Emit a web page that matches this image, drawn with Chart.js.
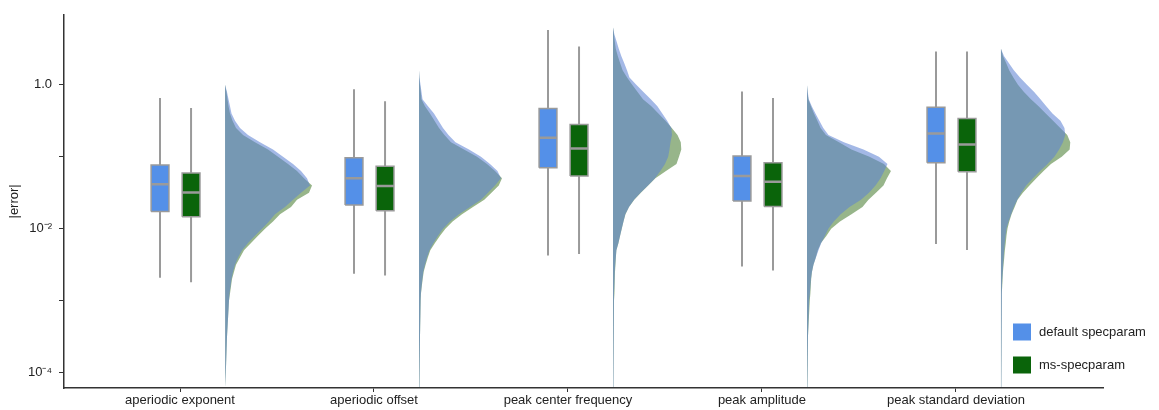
<!DOCTYPE html>
<html>
<head>
<meta charset="utf-8">
<script src="https://cdn.jsdelivr.net/npm/chart.js@4.4.1/dist/chart.umd.min.js"></script>
<style>
  html, body { margin: 0; padding: 0; background: #fff; }
</style>
</head>
<body>
<canvas id="chart" width="1159" height="410"></canvas>
<script>
// Categories along the x axis and the two compared methods
const CATEGORIES = ['aperiodic exponent', 'aperiodic offset', 'peak center frequency', 'peak amplitude', 'peak standard deviation'];
const SERIES = ['default specparam', 'ms-specparam'];

// Box-plot statistics of |error| (whisker ends, quartiles, median)
const DEFAULT_MIN = [0.00207, 0.00236, 0.00422, 0.00297, 0.00612];
const DEFAULT_Q1 = [0.0173, 0.0214, 0.0703, 0.0243, 0.0824];
const DEFAULT_MED = [0.0414, 0.0501, 0.183, 0.054, 0.21];
const DEFAULT_Q3 = [0.0765, 0.0966, 0.466, 0.102, 0.485];
const DEFAULT_MAX = [0.653, 0.869, 5.77, 0.807, 2.89];

const MS_MIN = [0.0018, 0.00223, 0.00445, 0.00262, 0.00506];
const MS_Q1 = [0.0146, 0.0177, 0.0539, 0.0203, 0.0618];
const MS_MED = [0.0317, 0.0392, 0.130, 0.045, 0.148];
const MS_Q3 = [0.0593, 0.0734, 0.28, 0.0824, 0.339];
const MS_MAX = [0.475, 0.588, 3.39, 0.653, 2.89];

// log10(|error|) levels at which the half-violin densities were read
const LEVELS = [1.0, 0.9, 0.8, 0.7, 0.6, 0.5, 0.4, 0.3, 0.2, 0.1,
    0, -0.1, -0.2, -0.3, -0.4, -0.5, -0.6, -0.7, -0.8, -0.9,
    -1.0, -1.1, -1.2, -1.3, -1.4, -1.5, -1.6, -1.7, -1.8, -1.9,
    -2.0, -2.1, -2.2, -2.3, -2.4, -2.5, -2.6, -2.7, -2.8, -2.9,
    -3.0, -3.5, -4.0, -4.2];

// Density (arbitrary units) per category, one row per category
const DEFAULT_DENSITY = [
    [0, 0, 0, 0, 0, 0, 0, 0, 0, 0,
     0.5, 2, 3.5, 5, 6.5, 10, 15, 23, 35, 48,
     58, 68, 76, 82, 85, 76, 68, 60, 50, 44,
     37, 30, 23, 17, 13, 10, 8, 6.5, 5.5, 4.5,
     4, 2, 0.8, 0.4],
    [0, 0, 0, 0, 0, 0, 0, 0, 0, 0.5,
     1.5, 2.5, 3.5, 9, 15, 19.5, 24, 29.5, 36.5, 50,
     62, 71, 78.5, 82, 76, 69, 62, 51, 40, 31,
     24, 19, 14.5, 10.5, 8, 6, 4.3, 3.4, 2.6, 1.9,
     1.6, 1, 0.5, 0.3],
    [0, 0, 0, 1.4, 3.6, 5.8, 8.3, 11.3, 14, 16.5,
     23.3, 30.5, 37.8, 44.4, 49.3, 54.2, 58.4, 59, 57.5, 56.5,
     55.2, 52, 47.4, 42, 35, 27.5, 21, 16, 12.3, 10.5,
     8.7, 7.1, 5.4, 3.4, 2.8, 2.2, 1.8, 1.5, 1.2, 1,
     0.8, 0.5, 0.3, 0.2],
    [0, 0, 0, 0, 0, 0, 0, 0, 0, 0,
     0, 0.8, 1.8, 4.8, 8.5, 12.4, 16.3, 21.5, 37, 56.5,
     72, 80.5, 77.3, 73.6, 68.5, 62, 54, 42.5, 33.7, 26.8,
     21.4, 18, 14.3, 11.5, 9, 6.5, 5, 4, 3.4, 2.9,
     2.2, 1, 0.5, 0.3],
    [0, 0, 0, 0, 0, 0, 3, 8, 12.9, 19,
     26, 33.2, 39.5, 45.3, 51.5, 59.5, 63.5, 64.3, 62, 58.2,
     53.4, 46.6, 39.2, 32, 25.2, 20.3, 16.3, 12.9, 10.2, 7.6,
     5.5, 4.6, 3.8, 3.2, 2.7, 2.2, 1.8, 1.3, 1, 0.8,
     0.6, 0.3, 0.2, 0.1],
];

const MS_DENSITY = [
    [0, 0, 0, 0, 0, 0, 0, 0, 0, 0,
     0.3, 1.5, 2.5, 3.5, 5, 7.5, 11, 18, 30, 43,
     53, 63, 72, 79, 87, 84, 72, 66, 55, 48,
     40, 33, 26, 19, 15, 11, 9, 7, 6, 5,
     4, 2, 0.8, 0.4],
    [0, 0, 0, 0, 0, 0, 0, 0, 0, 0.3,
     1, 1.8, 2.5, 6, 11, 15.5, 20, 25.5, 32, 45,
     58, 68, 76, 83, 79.8, 72.5, 65.3, 54, 43, 33.6,
     26.4, 21, 16, 11.3, 8.8, 6.6, 4.7, 3.7, 2.8, 2,
     1.7, 1, 0.5, 0.3],
    [0, 0, 0, 1, 1.8, 2.8, 4.8, 7.2, 9.6, 14.1,
     19.2, 24.6, 30, 38.4, 45.4, 52.5, 58.8, 64.5, 67.8, 68.3,
     66, 63.5, 53, 42.4, 35.2, 27.9, 21.3, 16, 12.5, 10.5,
     8.8, 7.1, 5.5, 3.4, 2.9, 2.5, 2, 1.7, 1.5, 1.2,
     1, 0.5, 0.3, 0.2],
    [0, 0, 0, 0, 0, 0, 0, 0, 0, 0,
     0, 0.5, 1.4, 4, 7, 10.4, 13.6, 19, 32, 44.5,
     62.5, 77, 84, 80, 76.5, 69, 61.5, 55.5, 44.5, 33,
     24.2, 19.5, 14, 10.8, 8.8, 6.5, 5, 4.2, 3.8, 3.4,
     2.8, 1, 0.5, 0.3],
    [0, 0, 0, 0, 0, 0, 2, 5.3, 8.2, 12.4,
     17, 23, 30, 37.6, 44.8, 52.1, 59.3, 66.3, 69.3, 68.7,
     60.8, 50, 42.6, 35.4, 28.5, 21.9, 16.6, 13.7, 10.6, 8.3,
     6.5, 5.5, 4.8, 3.9, 3.3, 2.6, 2, 1.4, 1.1, 0.8,
     0.6, 0.3, 0.2, 0.1],
];

// Y axis ticks and their labels (only every other decade is labelled)
const Y_TICKS = [1e-4, 1e-3, 1e-2, 1e-1, 1];
const Y_TICK_LABELS = ['10\u207B\u2074', '', '10\u207B\u00B2', '', '1.0'];

// Layout / style constants
const FONT = '"Liberation Sans", Arial, Helvetica, sans-serif';
const BOX_COLORS = ['#5490e8', '#0a640a'];
const VIOLIN_COLORS = ['rgba(93, 130, 211, 0.57)', 'rgba(47, 107, 21, 0.5)'];
const GREY = '#9a9a9a';
const BOX_OFFSET = [-0.103, 0.057];   // x offset of each series' box from the category
const BOX_HALF = 0.046;               // half box width in x units
const VIOLIN_OFFSET = 0.232;          // x offset of the violin baseline
const DENSITY_TO_X = 1 / 194;         // density unit -> x units

const stats = [
    { min: DEFAULT_MIN, q1: DEFAULT_Q1, med: DEFAULT_MED, q3: DEFAULT_Q3, max: DEFAULT_MAX },
    { min: MS_MIN, q1: MS_Q1, med: MS_MED, q3: MS_Q3, max: MS_MAX },
];
const densities = [DEFAULT_DENSITY, MS_DENSITY];

function lineDataset(data, extra) {
    return Object.assign({
        data,
        showLine: true,
        pointRadius: 0,
        pointHoverRadius: 0,
        tension: 0,
        spanGaps: false,
        fill: false,
    }, extra);
}

const datasets = [];

// half violins (green first underneath, blue on top)
[1, 0].forEach(s => {
    CATEGORIES.forEach((_, c) => {
        const base = c + VIOLIN_OFFSET;
        const pts = [{ x: base, y: Math.pow(10, LEVELS[0]) }];
        LEVELS.forEach((lv, k) => {
            pts.push({ x: base + densities[s][c][k] * DENSITY_TO_X, y: Math.pow(10, lv) });
        });
        pts.push({ x: base, y: Math.pow(10, LEVELS[LEVELS.length - 1]) });
        datasets.push(lineDataset(pts, {
            borderWidth: 0,
            borderColor: 'rgba(0,0,0,0)',
            backgroundColor: VIOLIN_COLORS[s],
            fill: 'shape',
            order: s === 1 ? 6 : 5,
        }));
    });
});

// whiskers and boxes and medians
[0, 1].forEach(s => {
    const st = stats[s];
    const whisk = [];
    const meds = [];
    CATEGORIES.forEach((_, c) => {
        const x = c + BOX_OFFSET[s];
        whisk.push({ x, y: st.min[c] }, { x, y: st.max[c] }, { x, y: null });
        meds.push({ x: x - BOX_HALF, y: st.med[c] }, { x: x + BOX_HALF, y: st.med[c] }, { x, y: null });
        datasets.push(lineDataset([
            { x: x - BOX_HALF, y: st.q1[c] },
            { x: x + BOX_HALF, y: st.q1[c] },
            { x: x + BOX_HALF, y: st.q3[c] },
            { x: x - BOX_HALF, y: st.q3[c] },
            { x: x - BOX_HALF, y: st.q1[c] },
        ], {
            borderWidth: 1.5,
            borderColor: GREY,
            backgroundColor: BOX_COLORS[s],
            fill: 'shape',
            order: 2,
        }));
    });
    datasets.push(lineDataset(whisk, { borderWidth: 2, borderColor: GREY, order: 3 }));
    datasets.push(lineDataset(meds, { borderWidth: 2.5, borderColor: GREY, order: 1 }));
});

// legend drawn inside the plot, bottom right
const insetLegend = {
    id: 'insetLegend',
    afterDraw(chart) {
        const { ctx, chartArea } = chart;
        ctx.save();
        ctx.font = '13px ' + FONT;
        ctx.textBaseline = 'middle';
        ctx.textAlign = 'left';
        SERIES.forEach((label, i) => {
            const y = chartArea.bottom - 56 + i * 33;
            ctx.fillStyle = BOX_COLORS[i];
            ctx.fillRect(chartArea.right - 90, y - 8.5, 18, 17);
            ctx.fillStyle = '#222';
            ctx.fillText(label, chartArea.right - 64, y);
        });
        ctx.restore();
    },
};

new Chart(document.getElementById('chart'), {
    type: 'scatter',
    data: { datasets },
    plugins: [insetLegend],
    options: {
        responsive: false,
        animation: false,
        layout: { padding: { top: 13, right: 56, left: 0, bottom: 0 } },
        plugins: {
            legend: { display: false },
            tooltip: { enabled: false },
        },
        scales: {
            x: {
                type: 'linear',
                min: -0.598,
                max: 4.758,
                afterBuildTicks: (scale) => {
                    scale.ticks = CATEGORIES.map((_, i) => ({ value: i }));
                },
                afterFit: (scale) => { scale.height = 22; },
                ticks: {
                    callback: (v, i) => CATEGORIES[i],
                    autoSkip: false,
                    maxRotation: 0,
                    padding: 1,
                    color: '#222',
                    font: { family: FONT, size: 13 },
                },
                grid: { drawOnChartArea: false, drawTicks: true, tickLength: 4, tickColor: '#333' },
                border: { display: true, color: '#333', width: 1.5 },
            },
            y: {
                type: 'logarithmic',
                min: 6.1e-5,
                max: 9.38,
                afterBuildTicks: (scale) => {
                    scale.ticks = Y_TICKS.map(v => ({ value: v }));
                },
                afterFit: (scale) => { scale.width = 64; },
                ticks: {
                    callback: (v, i) => Y_TICK_LABELS[i],
                    padding: 7,
                    color: '#222',
                    font: { family: FONT, size: 13 },
                },
                title: {
                    display: true,
                    text: '|error|',
                    color: '#222',
                    font: { family: FONT, size: 13 },
                    padding: { top: 7, bottom: 0 },
                },
                grid: { drawOnChartArea: false, drawTicks: true, tickLength: 5, tickColor: '#333' },
                border: { display: true, color: '#333', width: 1.5 },
            },
        },
    },
});
</script>
</body>
</html>
